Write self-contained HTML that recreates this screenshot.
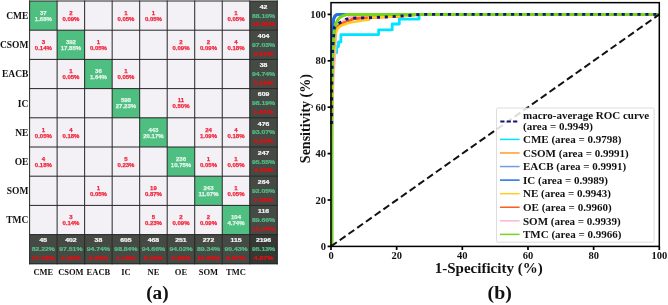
<!DOCTYPE html>
<html><head><meta charset="utf-8"><title>Figure</title>
<style>html,body{margin:0;padding:0;background:#fff;}body{width:668px;height:305px;position:relative;overflow:hidden;font-family:"Liberation Sans",sans-serif;}</style>
</head><body>
<svg width="668" height="305" viewBox="0 0 668 305" style="position:absolute;left:0;top:0;will-change:transform">
<rect width="668" height="305" fill="#fff"/>
<rect x="29.60" y="1.00" width="27.82" height="29.50" fill="#4fbe81"/>
<rect x="57.12" y="1.00" width="27.82" height="29.50" fill="#f3f1f6"/>
<rect x="84.64" y="1.00" width="27.82" height="29.50" fill="#f3f1f6"/>
<rect x="112.16" y="1.00" width="27.82" height="29.50" fill="#f3f1f6"/>
<rect x="139.68" y="1.00" width="27.82" height="29.50" fill="#f3f1f6"/>
<rect x="167.20" y="1.00" width="27.82" height="29.50" fill="#f3f1f6"/>
<rect x="194.72" y="1.00" width="27.82" height="29.50" fill="#f3f1f6"/>
<rect x="222.24" y="1.00" width="27.82" height="29.50" fill="#f3f1f6"/>
<rect x="249.76" y="1.00" width="27.82" height="29.50" fill="#454a44"/>
<rect x="29.60" y="30.20" width="27.82" height="29.50" fill="#f3f1f6"/>
<rect x="57.12" y="30.20" width="27.82" height="29.50" fill="#4fbe81"/>
<rect x="84.64" y="30.20" width="27.82" height="29.50" fill="#f3f1f6"/>
<rect x="112.16" y="30.20" width="27.82" height="29.50" fill="#f3f1f6"/>
<rect x="139.68" y="30.20" width="27.82" height="29.50" fill="#f3f1f6"/>
<rect x="167.20" y="30.20" width="27.82" height="29.50" fill="#f3f1f6"/>
<rect x="194.72" y="30.20" width="27.82" height="29.50" fill="#f3f1f6"/>
<rect x="222.24" y="30.20" width="27.82" height="29.50" fill="#f3f1f6"/>
<rect x="249.76" y="30.20" width="27.82" height="29.50" fill="#454a44"/>
<rect x="29.60" y="59.40" width="27.82" height="29.50" fill="#f3f1f6"/>
<rect x="57.12" y="59.40" width="27.82" height="29.50" fill="#f3f1f6"/>
<rect x="84.64" y="59.40" width="27.82" height="29.50" fill="#4fbe81"/>
<rect x="112.16" y="59.40" width="27.82" height="29.50" fill="#f3f1f6"/>
<rect x="139.68" y="59.40" width="27.82" height="29.50" fill="#f3f1f6"/>
<rect x="167.20" y="59.40" width="27.82" height="29.50" fill="#f3f1f6"/>
<rect x="194.72" y="59.40" width="27.82" height="29.50" fill="#f3f1f6"/>
<rect x="222.24" y="59.40" width="27.82" height="29.50" fill="#f3f1f6"/>
<rect x="249.76" y="59.40" width="27.82" height="29.50" fill="#454a44"/>
<rect x="29.60" y="88.60" width="27.82" height="29.50" fill="#f3f1f6"/>
<rect x="57.12" y="88.60" width="27.82" height="29.50" fill="#f3f1f6"/>
<rect x="84.64" y="88.60" width="27.82" height="29.50" fill="#f3f1f6"/>
<rect x="112.16" y="88.60" width="27.82" height="29.50" fill="#4fbe81"/>
<rect x="139.68" y="88.60" width="27.82" height="29.50" fill="#f3f1f6"/>
<rect x="167.20" y="88.60" width="27.82" height="29.50" fill="#f3f1f6"/>
<rect x="194.72" y="88.60" width="27.82" height="29.50" fill="#f3f1f6"/>
<rect x="222.24" y="88.60" width="27.82" height="29.50" fill="#f3f1f6"/>
<rect x="249.76" y="88.60" width="27.82" height="29.50" fill="#454a44"/>
<rect x="29.60" y="117.80" width="27.82" height="29.50" fill="#f3f1f6"/>
<rect x="57.12" y="117.80" width="27.82" height="29.50" fill="#f3f1f6"/>
<rect x="84.64" y="117.80" width="27.82" height="29.50" fill="#f3f1f6"/>
<rect x="112.16" y="117.80" width="27.82" height="29.50" fill="#f3f1f6"/>
<rect x="139.68" y="117.80" width="27.82" height="29.50" fill="#4fbe81"/>
<rect x="167.20" y="117.80" width="27.82" height="29.50" fill="#f3f1f6"/>
<rect x="194.72" y="117.80" width="27.82" height="29.50" fill="#f3f1f6"/>
<rect x="222.24" y="117.80" width="27.82" height="29.50" fill="#f3f1f6"/>
<rect x="249.76" y="117.80" width="27.82" height="29.50" fill="#454a44"/>
<rect x="29.60" y="147.00" width="27.82" height="29.50" fill="#f3f1f6"/>
<rect x="57.12" y="147.00" width="27.82" height="29.50" fill="#f3f1f6"/>
<rect x="84.64" y="147.00" width="27.82" height="29.50" fill="#f3f1f6"/>
<rect x="112.16" y="147.00" width="27.82" height="29.50" fill="#f3f1f6"/>
<rect x="139.68" y="147.00" width="27.82" height="29.50" fill="#f3f1f6"/>
<rect x="167.20" y="147.00" width="27.82" height="29.50" fill="#4fbe81"/>
<rect x="194.72" y="147.00" width="27.82" height="29.50" fill="#f3f1f6"/>
<rect x="222.24" y="147.00" width="27.82" height="29.50" fill="#f3f1f6"/>
<rect x="249.76" y="147.00" width="27.82" height="29.50" fill="#454a44"/>
<rect x="29.60" y="176.20" width="27.82" height="29.50" fill="#f3f1f6"/>
<rect x="57.12" y="176.20" width="27.82" height="29.50" fill="#f3f1f6"/>
<rect x="84.64" y="176.20" width="27.82" height="29.50" fill="#f3f1f6"/>
<rect x="112.16" y="176.20" width="27.82" height="29.50" fill="#f3f1f6"/>
<rect x="139.68" y="176.20" width="27.82" height="29.50" fill="#f3f1f6"/>
<rect x="167.20" y="176.20" width="27.82" height="29.50" fill="#f3f1f6"/>
<rect x="194.72" y="176.20" width="27.82" height="29.50" fill="#4fbe81"/>
<rect x="222.24" y="176.20" width="27.82" height="29.50" fill="#f3f1f6"/>
<rect x="249.76" y="176.20" width="27.82" height="29.50" fill="#454a44"/>
<rect x="29.60" y="205.40" width="27.82" height="29.50" fill="#f3f1f6"/>
<rect x="57.12" y="205.40" width="27.82" height="29.50" fill="#f3f1f6"/>
<rect x="84.64" y="205.40" width="27.82" height="29.50" fill="#f3f1f6"/>
<rect x="112.16" y="205.40" width="27.82" height="29.50" fill="#f3f1f6"/>
<rect x="139.68" y="205.40" width="27.82" height="29.50" fill="#f3f1f6"/>
<rect x="167.20" y="205.40" width="27.82" height="29.50" fill="#f3f1f6"/>
<rect x="194.72" y="205.40" width="27.82" height="29.50" fill="#f3f1f6"/>
<rect x="222.24" y="205.40" width="27.82" height="29.50" fill="#4fbe81"/>
<rect x="249.76" y="205.40" width="27.82" height="29.50" fill="#454a44"/>
<rect x="29.60" y="234.60" width="27.82" height="29.50" fill="#454a44"/>
<rect x="57.12" y="234.60" width="27.82" height="29.50" fill="#454a44"/>
<rect x="84.64" y="234.60" width="27.82" height="29.50" fill="#454a44"/>
<rect x="112.16" y="234.60" width="27.82" height="29.50" fill="#454a44"/>
<rect x="139.68" y="234.60" width="27.82" height="29.50" fill="#454a44"/>
<rect x="167.20" y="234.60" width="27.82" height="29.50" fill="#454a44"/>
<rect x="194.72" y="234.60" width="27.82" height="29.50" fill="#454a44"/>
<rect x="222.24" y="234.60" width="27.82" height="29.50" fill="#454a44"/>
<rect x="249.76" y="234.60" width="27.82" height="29.50" fill="#343934"/>
<line x1="29.60" x2="29.60" y1="0.50" y2="264.30" stroke="#262626" stroke-width="1"/>
<line y1="1.00" y2="1.00" x1="29.10" x2="277.78" stroke="#262626" stroke-width="1"/>
<line x1="57.12" x2="57.12" y1="0.50" y2="264.30" stroke="#262626" stroke-width="1"/>
<line y1="30.20" y2="30.20" x1="29.10" x2="277.78" stroke="#262626" stroke-width="1"/>
<line x1="84.64" x2="84.64" y1="0.50" y2="264.30" stroke="#262626" stroke-width="1"/>
<line y1="59.40" y2="59.40" x1="29.10" x2="277.78" stroke="#262626" stroke-width="1"/>
<line x1="112.16" x2="112.16" y1="0.50" y2="264.30" stroke="#262626" stroke-width="1"/>
<line y1="88.60" y2="88.60" x1="29.10" x2="277.78" stroke="#262626" stroke-width="1"/>
<line x1="139.68" x2="139.68" y1="0.50" y2="264.30" stroke="#262626" stroke-width="1"/>
<line y1="117.80" y2="117.80" x1="29.10" x2="277.78" stroke="#262626" stroke-width="1"/>
<line x1="167.20" x2="167.20" y1="0.50" y2="264.30" stroke="#262626" stroke-width="1"/>
<line y1="147.00" y2="147.00" x1="29.10" x2="277.78" stroke="#262626" stroke-width="1"/>
<line x1="194.72" x2="194.72" y1="0.50" y2="264.30" stroke="#262626" stroke-width="1"/>
<line y1="176.20" y2="176.20" x1="29.10" x2="277.78" stroke="#262626" stroke-width="1"/>
<line x1="222.24" x2="222.24" y1="0.50" y2="264.30" stroke="#262626" stroke-width="1"/>
<line y1="205.40" y2="205.40" x1="29.10" x2="277.78" stroke="#262626" stroke-width="1"/>
<line x1="249.76" x2="249.76" y1="0.50" y2="264.30" stroke="#262626" stroke-width="1"/>
<line y1="234.60" y2="234.60" x1="29.10" x2="277.78" stroke="#262626" stroke-width="1"/>
<line x1="277.28" x2="277.28" y1="0.50" y2="264.30" stroke="#262626" stroke-width="1"/>
<line y1="263.80" y2="263.80" x1="29.10" x2="277.78" stroke="#262626" stroke-width="1"/>
<text transform="translate(43.36,14.80) scale(1.0,1)" font-family="Liberation Sans, sans-serif" font-size="6.0" font-weight="bold" fill="#e2f5ea" stroke="#e2f5ea" stroke-width="0.25" text-anchor="middle">37</text>
<text transform="translate(43.36,20.70) scale(1.0,1)" font-family="Liberation Sans, sans-serif" font-size="6.0" font-weight="bold" fill="#e2f5ea" stroke="#e2f5ea" stroke-width="0.25" text-anchor="middle">1.68%</text>
<text transform="translate(70.88,44.00) scale(1.0,1)" font-family="Liberation Sans, sans-serif" font-size="6.0" font-weight="bold" fill="#e2f5ea" stroke="#e2f5ea" stroke-width="0.25" text-anchor="middle">392</text>
<text transform="translate(70.88,49.90) scale(1.0,1)" font-family="Liberation Sans, sans-serif" font-size="6.0" font-weight="bold" fill="#e2f5ea" stroke="#e2f5ea" stroke-width="0.25" text-anchor="middle">17.85%</text>
<text transform="translate(98.40,73.20) scale(1.0,1)" font-family="Liberation Sans, sans-serif" font-size="6.0" font-weight="bold" fill="#e2f5ea" stroke="#e2f5ea" stroke-width="0.25" text-anchor="middle">36</text>
<text transform="translate(98.40,79.10) scale(1.0,1)" font-family="Liberation Sans, sans-serif" font-size="6.0" font-weight="bold" fill="#e2f5ea" stroke="#e2f5ea" stroke-width="0.25" text-anchor="middle">1.64%</text>
<text transform="translate(125.92,102.40) scale(1.0,1)" font-family="Liberation Sans, sans-serif" font-size="6.0" font-weight="bold" fill="#e2f5ea" stroke="#e2f5ea" stroke-width="0.25" text-anchor="middle">598</text>
<text transform="translate(125.92,108.30) scale(1.0,1)" font-family="Liberation Sans, sans-serif" font-size="6.0" font-weight="bold" fill="#e2f5ea" stroke="#e2f5ea" stroke-width="0.25" text-anchor="middle">27.23%</text>
<text transform="translate(153.44,131.60) scale(1.0,1)" font-family="Liberation Sans, sans-serif" font-size="6.0" font-weight="bold" fill="#e2f5ea" stroke="#e2f5ea" stroke-width="0.25" text-anchor="middle">443</text>
<text transform="translate(153.44,137.50) scale(1.0,1)" font-family="Liberation Sans, sans-serif" font-size="6.0" font-weight="bold" fill="#e2f5ea" stroke="#e2f5ea" stroke-width="0.25" text-anchor="middle">20.17%</text>
<text transform="translate(180.96,160.80) scale(1.0,1)" font-family="Liberation Sans, sans-serif" font-size="6.0" font-weight="bold" fill="#e2f5ea" stroke="#e2f5ea" stroke-width="0.25" text-anchor="middle">236</text>
<text transform="translate(180.96,166.70) scale(1.0,1)" font-family="Liberation Sans, sans-serif" font-size="6.0" font-weight="bold" fill="#e2f5ea" stroke="#e2f5ea" stroke-width="0.25" text-anchor="middle">10.75%</text>
<text transform="translate(208.48,190.00) scale(1.0,1)" font-family="Liberation Sans, sans-serif" font-size="6.0" font-weight="bold" fill="#e2f5ea" stroke="#e2f5ea" stroke-width="0.25" text-anchor="middle">243</text>
<text transform="translate(208.48,195.90) scale(1.0,1)" font-family="Liberation Sans, sans-serif" font-size="6.0" font-weight="bold" fill="#e2f5ea" stroke="#e2f5ea" stroke-width="0.25" text-anchor="middle">11.07%</text>
<text transform="translate(236.00,219.20) scale(1.0,1)" font-family="Liberation Sans, sans-serif" font-size="6.0" font-weight="bold" fill="#e2f5ea" stroke="#e2f5ea" stroke-width="0.25" text-anchor="middle">104</text>
<text transform="translate(236.00,225.10) scale(1.0,1)" font-family="Liberation Sans, sans-serif" font-size="6.0" font-weight="bold" fill="#e2f5ea" stroke="#e2f5ea" stroke-width="0.25" text-anchor="middle">4.74%</text>
<text transform="translate(70.88,14.80) scale(1.0,1)" font-family="Liberation Sans, sans-serif" font-size="6.0" font-weight="bold" fill="#f3243a" stroke="#f3243a" stroke-width="0.25" text-anchor="middle">2</text>
<text transform="translate(70.88,20.70) scale(1.0,1)" font-family="Liberation Sans, sans-serif" font-size="6.0" font-weight="bold" fill="#f3243a" stroke="#f3243a" stroke-width="0.25" text-anchor="middle">0.09%</text>
<text transform="translate(125.92,14.80) scale(1.0,1)" font-family="Liberation Sans, sans-serif" font-size="6.0" font-weight="bold" fill="#f3243a" stroke="#f3243a" stroke-width="0.25" text-anchor="middle">1</text>
<text transform="translate(125.92,20.70) scale(1.0,1)" font-family="Liberation Sans, sans-serif" font-size="6.0" font-weight="bold" fill="#f3243a" stroke="#f3243a" stroke-width="0.25" text-anchor="middle">0.05%</text>
<text transform="translate(153.44,14.80) scale(1.0,1)" font-family="Liberation Sans, sans-serif" font-size="6.0" font-weight="bold" fill="#f3243a" stroke="#f3243a" stroke-width="0.25" text-anchor="middle">1</text>
<text transform="translate(153.44,20.70) scale(1.0,1)" font-family="Liberation Sans, sans-serif" font-size="6.0" font-weight="bold" fill="#f3243a" stroke="#f3243a" stroke-width="0.25" text-anchor="middle">0.05%</text>
<text transform="translate(236.00,14.80) scale(1.0,1)" font-family="Liberation Sans, sans-serif" font-size="6.0" font-weight="bold" fill="#f3243a" stroke="#f3243a" stroke-width="0.25" text-anchor="middle">1</text>
<text transform="translate(236.00,20.70) scale(1.0,1)" font-family="Liberation Sans, sans-serif" font-size="6.0" font-weight="bold" fill="#f3243a" stroke="#f3243a" stroke-width="0.25" text-anchor="middle">0.05%</text>
<text transform="translate(43.36,44.00) scale(1.0,1)" font-family="Liberation Sans, sans-serif" font-size="6.0" font-weight="bold" fill="#f3243a" stroke="#f3243a" stroke-width="0.25" text-anchor="middle">3</text>
<text transform="translate(43.36,49.90) scale(1.0,1)" font-family="Liberation Sans, sans-serif" font-size="6.0" font-weight="bold" fill="#f3243a" stroke="#f3243a" stroke-width="0.25" text-anchor="middle">0.14%</text>
<text transform="translate(98.40,44.00) scale(1.0,1)" font-family="Liberation Sans, sans-serif" font-size="6.0" font-weight="bold" fill="#f3243a" stroke="#f3243a" stroke-width="0.25" text-anchor="middle">1</text>
<text transform="translate(98.40,49.90) scale(1.0,1)" font-family="Liberation Sans, sans-serif" font-size="6.0" font-weight="bold" fill="#f3243a" stroke="#f3243a" stroke-width="0.25" text-anchor="middle">0.05%</text>
<text transform="translate(180.96,44.00) scale(1.0,1)" font-family="Liberation Sans, sans-serif" font-size="6.0" font-weight="bold" fill="#f3243a" stroke="#f3243a" stroke-width="0.25" text-anchor="middle">2</text>
<text transform="translate(180.96,49.90) scale(1.0,1)" font-family="Liberation Sans, sans-serif" font-size="6.0" font-weight="bold" fill="#f3243a" stroke="#f3243a" stroke-width="0.25" text-anchor="middle">0.09%</text>
<text transform="translate(208.48,44.00) scale(1.0,1)" font-family="Liberation Sans, sans-serif" font-size="6.0" font-weight="bold" fill="#f3243a" stroke="#f3243a" stroke-width="0.25" text-anchor="middle">2</text>
<text transform="translate(208.48,49.90) scale(1.0,1)" font-family="Liberation Sans, sans-serif" font-size="6.0" font-weight="bold" fill="#f3243a" stroke="#f3243a" stroke-width="0.25" text-anchor="middle">0.09%</text>
<text transform="translate(236.00,44.00) scale(1.0,1)" font-family="Liberation Sans, sans-serif" font-size="6.0" font-weight="bold" fill="#f3243a" stroke="#f3243a" stroke-width="0.25" text-anchor="middle">4</text>
<text transform="translate(236.00,49.90) scale(1.0,1)" font-family="Liberation Sans, sans-serif" font-size="6.0" font-weight="bold" fill="#f3243a" stroke="#f3243a" stroke-width="0.25" text-anchor="middle">0.18%</text>
<text transform="translate(70.88,73.20) scale(1.0,1)" font-family="Liberation Sans, sans-serif" font-size="6.0" font-weight="bold" fill="#f3243a" stroke="#f3243a" stroke-width="0.25" text-anchor="middle">1</text>
<text transform="translate(70.88,79.10) scale(1.0,1)" font-family="Liberation Sans, sans-serif" font-size="6.0" font-weight="bold" fill="#f3243a" stroke="#f3243a" stroke-width="0.25" text-anchor="middle">0.05%</text>
<text transform="translate(125.92,73.20) scale(1.0,1)" font-family="Liberation Sans, sans-serif" font-size="6.0" font-weight="bold" fill="#f3243a" stroke="#f3243a" stroke-width="0.25" text-anchor="middle">1</text>
<text transform="translate(125.92,79.10) scale(1.0,1)" font-family="Liberation Sans, sans-serif" font-size="6.0" font-weight="bold" fill="#f3243a" stroke="#f3243a" stroke-width="0.25" text-anchor="middle">0.05%</text>
<text transform="translate(180.96,102.40) scale(1.0,1)" font-family="Liberation Sans, sans-serif" font-size="6.0" font-weight="bold" fill="#f3243a" stroke="#f3243a" stroke-width="0.25" text-anchor="middle">11</text>
<text transform="translate(180.96,108.30) scale(1.0,1)" font-family="Liberation Sans, sans-serif" font-size="6.0" font-weight="bold" fill="#f3243a" stroke="#f3243a" stroke-width="0.25" text-anchor="middle">0.50%</text>
<text transform="translate(43.36,131.60) scale(1.0,1)" font-family="Liberation Sans, sans-serif" font-size="6.0" font-weight="bold" fill="#f3243a" stroke="#f3243a" stroke-width="0.25" text-anchor="middle">1</text>
<text transform="translate(43.36,137.50) scale(1.0,1)" font-family="Liberation Sans, sans-serif" font-size="6.0" font-weight="bold" fill="#f3243a" stroke="#f3243a" stroke-width="0.25" text-anchor="middle">0.05%</text>
<text transform="translate(70.88,131.60) scale(1.0,1)" font-family="Liberation Sans, sans-serif" font-size="6.0" font-weight="bold" fill="#f3243a" stroke="#f3243a" stroke-width="0.25" text-anchor="middle">4</text>
<text transform="translate(70.88,137.50) scale(1.0,1)" font-family="Liberation Sans, sans-serif" font-size="6.0" font-weight="bold" fill="#f3243a" stroke="#f3243a" stroke-width="0.25" text-anchor="middle">0.18%</text>
<text transform="translate(208.48,131.60) scale(1.0,1)" font-family="Liberation Sans, sans-serif" font-size="6.0" font-weight="bold" fill="#f3243a" stroke="#f3243a" stroke-width="0.25" text-anchor="middle">24</text>
<text transform="translate(208.48,137.50) scale(1.0,1)" font-family="Liberation Sans, sans-serif" font-size="6.0" font-weight="bold" fill="#f3243a" stroke="#f3243a" stroke-width="0.25" text-anchor="middle">1.09%</text>
<text transform="translate(236.00,131.60) scale(1.0,1)" font-family="Liberation Sans, sans-serif" font-size="6.0" font-weight="bold" fill="#f3243a" stroke="#f3243a" stroke-width="0.25" text-anchor="middle">4</text>
<text transform="translate(236.00,137.50) scale(1.0,1)" font-family="Liberation Sans, sans-serif" font-size="6.0" font-weight="bold" fill="#f3243a" stroke="#f3243a" stroke-width="0.25" text-anchor="middle">0.18%</text>
<text transform="translate(43.36,160.80) scale(1.0,1)" font-family="Liberation Sans, sans-serif" font-size="6.0" font-weight="bold" fill="#f3243a" stroke="#f3243a" stroke-width="0.25" text-anchor="middle">4</text>
<text transform="translate(43.36,166.70) scale(1.0,1)" font-family="Liberation Sans, sans-serif" font-size="6.0" font-weight="bold" fill="#f3243a" stroke="#f3243a" stroke-width="0.25" text-anchor="middle">0.18%</text>
<text transform="translate(125.92,160.80) scale(1.0,1)" font-family="Liberation Sans, sans-serif" font-size="6.0" font-weight="bold" fill="#f3243a" stroke="#f3243a" stroke-width="0.25" text-anchor="middle">5</text>
<text transform="translate(125.92,166.70) scale(1.0,1)" font-family="Liberation Sans, sans-serif" font-size="6.0" font-weight="bold" fill="#f3243a" stroke="#f3243a" stroke-width="0.25" text-anchor="middle">0.23%</text>
<text transform="translate(208.48,160.80) scale(1.0,1)" font-family="Liberation Sans, sans-serif" font-size="6.0" font-weight="bold" fill="#f3243a" stroke="#f3243a" stroke-width="0.25" text-anchor="middle">1</text>
<text transform="translate(208.48,166.70) scale(1.0,1)" font-family="Liberation Sans, sans-serif" font-size="6.0" font-weight="bold" fill="#f3243a" stroke="#f3243a" stroke-width="0.25" text-anchor="middle">0.05%</text>
<text transform="translate(236.00,160.80) scale(1.0,1)" font-family="Liberation Sans, sans-serif" font-size="6.0" font-weight="bold" fill="#f3243a" stroke="#f3243a" stroke-width="0.25" text-anchor="middle">1</text>
<text transform="translate(236.00,166.70) scale(1.0,1)" font-family="Liberation Sans, sans-serif" font-size="6.0" font-weight="bold" fill="#f3243a" stroke="#f3243a" stroke-width="0.25" text-anchor="middle">0.05%</text>
<text transform="translate(98.40,190.00) scale(1.0,1)" font-family="Liberation Sans, sans-serif" font-size="6.0" font-weight="bold" fill="#f3243a" stroke="#f3243a" stroke-width="0.25" text-anchor="middle">1</text>
<text transform="translate(98.40,195.90) scale(1.0,1)" font-family="Liberation Sans, sans-serif" font-size="6.0" font-weight="bold" fill="#f3243a" stroke="#f3243a" stroke-width="0.25" text-anchor="middle">0.05%</text>
<text transform="translate(153.44,190.00) scale(1.0,1)" font-family="Liberation Sans, sans-serif" font-size="6.0" font-weight="bold" fill="#f3243a" stroke="#f3243a" stroke-width="0.25" text-anchor="middle">19</text>
<text transform="translate(153.44,195.90) scale(1.0,1)" font-family="Liberation Sans, sans-serif" font-size="6.0" font-weight="bold" fill="#f3243a" stroke="#f3243a" stroke-width="0.25" text-anchor="middle">0.87%</text>
<text transform="translate(236.00,190.00) scale(1.0,1)" font-family="Liberation Sans, sans-serif" font-size="6.0" font-weight="bold" fill="#f3243a" stroke="#f3243a" stroke-width="0.25" text-anchor="middle">1</text>
<text transform="translate(236.00,195.90) scale(1.0,1)" font-family="Liberation Sans, sans-serif" font-size="6.0" font-weight="bold" fill="#f3243a" stroke="#f3243a" stroke-width="0.25" text-anchor="middle">0.05%</text>
<text transform="translate(70.88,219.20) scale(1.0,1)" font-family="Liberation Sans, sans-serif" font-size="6.0" font-weight="bold" fill="#f3243a" stroke="#f3243a" stroke-width="0.25" text-anchor="middle">3</text>
<text transform="translate(70.88,225.10) scale(1.0,1)" font-family="Liberation Sans, sans-serif" font-size="6.0" font-weight="bold" fill="#f3243a" stroke="#f3243a" stroke-width="0.25" text-anchor="middle">0.14%</text>
<text transform="translate(153.44,219.20) scale(1.0,1)" font-family="Liberation Sans, sans-serif" font-size="6.0" font-weight="bold" fill="#f3243a" stroke="#f3243a" stroke-width="0.25" text-anchor="middle">5</text>
<text transform="translate(153.44,225.10) scale(1.0,1)" font-family="Liberation Sans, sans-serif" font-size="6.0" font-weight="bold" fill="#f3243a" stroke="#f3243a" stroke-width="0.25" text-anchor="middle">0.23%</text>
<text transform="translate(180.96,219.20) scale(1.0,1)" font-family="Liberation Sans, sans-serif" font-size="6.0" font-weight="bold" fill="#f3243a" stroke="#f3243a" stroke-width="0.25" text-anchor="middle">2</text>
<text transform="translate(180.96,225.10) scale(1.0,1)" font-family="Liberation Sans, sans-serif" font-size="6.0" font-weight="bold" fill="#f3243a" stroke="#f3243a" stroke-width="0.25" text-anchor="middle">0.09%</text>
<text transform="translate(208.48,219.20) scale(1.0,1)" font-family="Liberation Sans, sans-serif" font-size="6.0" font-weight="bold" fill="#f3243a" stroke="#f3243a" stroke-width="0.25" text-anchor="middle">2</text>
<text transform="translate(208.48,225.10) scale(1.0,1)" font-family="Liberation Sans, sans-serif" font-size="6.0" font-weight="bold" fill="#f3243a" stroke="#f3243a" stroke-width="0.25" text-anchor="middle">0.09%</text>
<text transform="translate(263.52,8.80) scale(1.2,1)" font-family="Liberation Sans, sans-serif" font-size="5.7" font-weight="bold" fill="#f4f4f4" stroke="#f4f4f4" stroke-width="0.25" text-anchor="middle">42</text>
<text transform="translate(263.52,17.50) scale(1.2,1)" font-family="Liberation Sans, sans-serif" font-size="5.7" font-weight="bold" fill="#54bb84" stroke="#54bb84" stroke-width="0.25" text-anchor="middle">88.10%</text>
<text transform="translate(263.52,26.30) scale(1.2,1)" font-family="Liberation Sans, sans-serif" font-size="5.7" font-weight="bold" fill="#e80c10" stroke="#e80c10" stroke-width="0.25" text-anchor="middle">11.90%</text>
<text transform="translate(263.52,38.00) scale(1.2,1)" font-family="Liberation Sans, sans-serif" font-size="5.7" font-weight="bold" fill="#f4f4f4" stroke="#f4f4f4" stroke-width="0.25" text-anchor="middle">404</text>
<text transform="translate(263.52,46.70) scale(1.2,1)" font-family="Liberation Sans, sans-serif" font-size="5.7" font-weight="bold" fill="#54bb84" stroke="#54bb84" stroke-width="0.25" text-anchor="middle">97.03%</text>
<text transform="translate(263.52,55.50) scale(1.2,1)" font-family="Liberation Sans, sans-serif" font-size="5.7" font-weight="bold" fill="#e80c10" stroke="#e80c10" stroke-width="0.25" text-anchor="middle">2.97%</text>
<text transform="translate(263.52,67.20) scale(1.2,1)" font-family="Liberation Sans, sans-serif" font-size="5.7" font-weight="bold" fill="#f4f4f4" stroke="#f4f4f4" stroke-width="0.25" text-anchor="middle">38</text>
<text transform="translate(263.52,75.90) scale(1.2,1)" font-family="Liberation Sans, sans-serif" font-size="5.7" font-weight="bold" fill="#54bb84" stroke="#54bb84" stroke-width="0.25" text-anchor="middle">94.74%</text>
<text transform="translate(263.52,84.70) scale(1.2,1)" font-family="Liberation Sans, sans-serif" font-size="5.7" font-weight="bold" fill="#e80c10" stroke="#e80c10" stroke-width="0.25" text-anchor="middle">5.26%</text>
<text transform="translate(263.52,96.40) scale(1.2,1)" font-family="Liberation Sans, sans-serif" font-size="5.7" font-weight="bold" fill="#f4f4f4" stroke="#f4f4f4" stroke-width="0.25" text-anchor="middle">609</text>
<text transform="translate(263.52,105.10) scale(1.2,1)" font-family="Liberation Sans, sans-serif" font-size="5.7" font-weight="bold" fill="#54bb84" stroke="#54bb84" stroke-width="0.25" text-anchor="middle">98.19%</text>
<text transform="translate(263.52,113.90) scale(1.2,1)" font-family="Liberation Sans, sans-serif" font-size="5.7" font-weight="bold" fill="#e80c10" stroke="#e80c10" stroke-width="0.25" text-anchor="middle">1.81%</text>
<text transform="translate(263.52,125.60) scale(1.2,1)" font-family="Liberation Sans, sans-serif" font-size="5.7" font-weight="bold" fill="#f4f4f4" stroke="#f4f4f4" stroke-width="0.25" text-anchor="middle">476</text>
<text transform="translate(263.52,134.30) scale(1.2,1)" font-family="Liberation Sans, sans-serif" font-size="5.7" font-weight="bold" fill="#54bb84" stroke="#54bb84" stroke-width="0.25" text-anchor="middle">93.07%</text>
<text transform="translate(263.52,143.10) scale(1.2,1)" font-family="Liberation Sans, sans-serif" font-size="5.7" font-weight="bold" fill="#e80c10" stroke="#e80c10" stroke-width="0.25" text-anchor="middle">6.93%</text>
<text transform="translate(263.52,154.80) scale(1.2,1)" font-family="Liberation Sans, sans-serif" font-size="5.7" font-weight="bold" fill="#f4f4f4" stroke="#f4f4f4" stroke-width="0.25" text-anchor="middle">247</text>
<text transform="translate(263.52,163.50) scale(1.2,1)" font-family="Liberation Sans, sans-serif" font-size="5.7" font-weight="bold" fill="#54bb84" stroke="#54bb84" stroke-width="0.25" text-anchor="middle">95.55%</text>
<text transform="translate(263.52,172.30) scale(1.2,1)" font-family="Liberation Sans, sans-serif" font-size="5.7" font-weight="bold" fill="#e80c10" stroke="#e80c10" stroke-width="0.25" text-anchor="middle">4.45%</text>
<text transform="translate(263.52,184.00) scale(1.2,1)" font-family="Liberation Sans, sans-serif" font-size="5.7" font-weight="bold" fill="#f4f4f4" stroke="#f4f4f4" stroke-width="0.25" text-anchor="middle">264</text>
<text transform="translate(263.52,192.70) scale(1.2,1)" font-family="Liberation Sans, sans-serif" font-size="5.7" font-weight="bold" fill="#54bb84" stroke="#54bb84" stroke-width="0.25" text-anchor="middle">92.05%</text>
<text transform="translate(263.52,201.50) scale(1.2,1)" font-family="Liberation Sans, sans-serif" font-size="5.7" font-weight="bold" fill="#e80c10" stroke="#e80c10" stroke-width="0.25" text-anchor="middle">7.95%</text>
<text transform="translate(263.52,213.20) scale(1.2,1)" font-family="Liberation Sans, sans-serif" font-size="5.7" font-weight="bold" fill="#f4f4f4" stroke="#f4f4f4" stroke-width="0.25" text-anchor="middle">116</text>
<text transform="translate(263.52,221.90) scale(1.2,1)" font-family="Liberation Sans, sans-serif" font-size="5.7" font-weight="bold" fill="#54bb84" stroke="#54bb84" stroke-width="0.25" text-anchor="middle">89.66%</text>
<text transform="translate(263.52,230.70) scale(1.2,1)" font-family="Liberation Sans, sans-serif" font-size="5.7" font-weight="bold" fill="#e80c10" stroke="#e80c10" stroke-width="0.25" text-anchor="middle">10.34%</text>
<text transform="translate(43.36,242.40) scale(1.2,1)" font-family="Liberation Sans, sans-serif" font-size="5.7" font-weight="bold" fill="#f4f4f4" stroke="#f4f4f4" stroke-width="0.25" text-anchor="middle">45</text>
<text transform="translate(43.36,251.10) scale(1.2,1)" font-family="Liberation Sans, sans-serif" font-size="5.7" font-weight="bold" fill="#54bb84" stroke="#54bb84" stroke-width="0.25" text-anchor="middle">82.22%</text>
<text transform="translate(43.36,259.90) scale(1.2,1)" font-family="Liberation Sans, sans-serif" font-size="5.7" font-weight="bold" fill="#e80c10" stroke="#e80c10" stroke-width="0.25" text-anchor="middle">17.78%</text>
<text transform="translate(70.88,242.40) scale(1.2,1)" font-family="Liberation Sans, sans-serif" font-size="5.7" font-weight="bold" fill="#f4f4f4" stroke="#f4f4f4" stroke-width="0.25" text-anchor="middle">402</text>
<text transform="translate(70.88,251.10) scale(1.2,1)" font-family="Liberation Sans, sans-serif" font-size="5.7" font-weight="bold" fill="#54bb84" stroke="#54bb84" stroke-width="0.25" text-anchor="middle">97.51%</text>
<text transform="translate(70.88,259.90) scale(1.2,1)" font-family="Liberation Sans, sans-serif" font-size="5.7" font-weight="bold" fill="#e80c10" stroke="#e80c10" stroke-width="0.25" text-anchor="middle">2.49%</text>
<text transform="translate(98.40,242.40) scale(1.2,1)" font-family="Liberation Sans, sans-serif" font-size="5.7" font-weight="bold" fill="#f4f4f4" stroke="#f4f4f4" stroke-width="0.25" text-anchor="middle">38</text>
<text transform="translate(98.40,251.10) scale(1.2,1)" font-family="Liberation Sans, sans-serif" font-size="5.7" font-weight="bold" fill="#54bb84" stroke="#54bb84" stroke-width="0.25" text-anchor="middle">94.74%</text>
<text transform="translate(98.40,259.90) scale(1.2,1)" font-family="Liberation Sans, sans-serif" font-size="5.7" font-weight="bold" fill="#e80c10" stroke="#e80c10" stroke-width="0.25" text-anchor="middle">5.26%</text>
<text transform="translate(125.92,242.40) scale(1.2,1)" font-family="Liberation Sans, sans-serif" font-size="5.7" font-weight="bold" fill="#f4f4f4" stroke="#f4f4f4" stroke-width="0.25" text-anchor="middle">605</text>
<text transform="translate(125.92,251.10) scale(1.2,1)" font-family="Liberation Sans, sans-serif" font-size="5.7" font-weight="bold" fill="#54bb84" stroke="#54bb84" stroke-width="0.25" text-anchor="middle">98.84%</text>
<text transform="translate(125.92,259.90) scale(1.2,1)" font-family="Liberation Sans, sans-serif" font-size="5.7" font-weight="bold" fill="#e80c10" stroke="#e80c10" stroke-width="0.25" text-anchor="middle">1.16%</text>
<text transform="translate(153.44,242.40) scale(1.2,1)" font-family="Liberation Sans, sans-serif" font-size="5.7" font-weight="bold" fill="#f4f4f4" stroke="#f4f4f4" stroke-width="0.25" text-anchor="middle">468</text>
<text transform="translate(153.44,251.10) scale(1.2,1)" font-family="Liberation Sans, sans-serif" font-size="5.7" font-weight="bold" fill="#54bb84" stroke="#54bb84" stroke-width="0.25" text-anchor="middle">94.66%</text>
<text transform="translate(153.44,259.90) scale(1.2,1)" font-family="Liberation Sans, sans-serif" font-size="5.7" font-weight="bold" fill="#e80c10" stroke="#e80c10" stroke-width="0.25" text-anchor="middle">5.34%</text>
<text transform="translate(180.96,242.40) scale(1.2,1)" font-family="Liberation Sans, sans-serif" font-size="5.7" font-weight="bold" fill="#f4f4f4" stroke="#f4f4f4" stroke-width="0.25" text-anchor="middle">251</text>
<text transform="translate(180.96,251.10) scale(1.2,1)" font-family="Liberation Sans, sans-serif" font-size="5.7" font-weight="bold" fill="#54bb84" stroke="#54bb84" stroke-width="0.25" text-anchor="middle">94.02%</text>
<text transform="translate(180.96,259.90) scale(1.2,1)" font-family="Liberation Sans, sans-serif" font-size="5.7" font-weight="bold" fill="#e80c10" stroke="#e80c10" stroke-width="0.25" text-anchor="middle">5.98%</text>
<text transform="translate(208.48,242.40) scale(1.2,1)" font-family="Liberation Sans, sans-serif" font-size="5.7" font-weight="bold" fill="#f4f4f4" stroke="#f4f4f4" stroke-width="0.25" text-anchor="middle">272</text>
<text transform="translate(208.48,251.10) scale(1.2,1)" font-family="Liberation Sans, sans-serif" font-size="5.7" font-weight="bold" fill="#54bb84" stroke="#54bb84" stroke-width="0.25" text-anchor="middle">89.34%</text>
<text transform="translate(208.48,259.90) scale(1.2,1)" font-family="Liberation Sans, sans-serif" font-size="5.7" font-weight="bold" fill="#e80c10" stroke="#e80c10" stroke-width="0.25" text-anchor="middle">10.66%</text>
<text transform="translate(236.00,242.40) scale(1.2,1)" font-family="Liberation Sans, sans-serif" font-size="5.7" font-weight="bold" fill="#f4f4f4" stroke="#f4f4f4" stroke-width="0.25" text-anchor="middle">115</text>
<text transform="translate(236.00,251.10) scale(1.2,1)" font-family="Liberation Sans, sans-serif" font-size="5.7" font-weight="bold" fill="#54bb84" stroke="#54bb84" stroke-width="0.25" text-anchor="middle">90.43%</text>
<text transform="translate(236.00,259.90) scale(1.2,1)" font-family="Liberation Sans, sans-serif" font-size="5.7" font-weight="bold" fill="#e80c10" stroke="#e80c10" stroke-width="0.25" text-anchor="middle">9.57%</text>
<text transform="translate(263.52,242.40) scale(1.2,1)" font-family="Liberation Sans, sans-serif" font-size="5.7" font-weight="bold" fill="#f4f4f4" stroke="#f4f4f4" stroke-width="0.25" text-anchor="middle">2196</text>
<text transform="translate(263.52,251.10) scale(1.2,1)" font-family="Liberation Sans, sans-serif" font-size="5.7" font-weight="bold" fill="#54bb84" stroke="#54bb84" stroke-width="0.25" text-anchor="middle">95.13%</text>
<text transform="translate(263.52,259.90) scale(1.2,1)" font-family="Liberation Sans, sans-serif" font-size="5.7" font-weight="bold" fill="#e80c10" stroke="#e80c10" stroke-width="0.25" text-anchor="middle">4.87%</text>
<text x="28.4" y="18.90" font-family="Liberation Serif, serif" font-weight="bold" font-size="9.5" fill="#111" text-anchor="end">CME</text>
<text x="43.36" y="275" font-family="Liberation Serif, serif" font-weight="bold" font-size="8.5" fill="#111" text-anchor="middle">CME</text>
<text x="28.4" y="48.10" font-family="Liberation Serif, serif" font-weight="bold" font-size="9.5" fill="#111" text-anchor="end">CSOM</text>
<text x="70.88" y="275" font-family="Liberation Serif, serif" font-weight="bold" font-size="8.5" fill="#111" text-anchor="middle">CSOM</text>
<text x="28.4" y="77.30" font-family="Liberation Serif, serif" font-weight="bold" font-size="9.5" fill="#111" text-anchor="end">EACB</text>
<text x="98.40" y="275" font-family="Liberation Serif, serif" font-weight="bold" font-size="8.5" fill="#111" text-anchor="middle">EACB</text>
<text x="28.4" y="106.50" font-family="Liberation Serif, serif" font-weight="bold" font-size="9.5" fill="#111" text-anchor="end">IC</text>
<text x="125.92" y="275" font-family="Liberation Serif, serif" font-weight="bold" font-size="8.5" fill="#111" text-anchor="middle">IC</text>
<text x="28.4" y="135.70" font-family="Liberation Serif, serif" font-weight="bold" font-size="9.5" fill="#111" text-anchor="end">NE</text>
<text x="153.44" y="275" font-family="Liberation Serif, serif" font-weight="bold" font-size="8.5" fill="#111" text-anchor="middle">NE</text>
<text x="28.4" y="164.90" font-family="Liberation Serif, serif" font-weight="bold" font-size="9.5" fill="#111" text-anchor="end">OE</text>
<text x="180.96" y="275" font-family="Liberation Serif, serif" font-weight="bold" font-size="8.5" fill="#111" text-anchor="middle">OE</text>
<text x="28.4" y="194.10" font-family="Liberation Serif, serif" font-weight="bold" font-size="9.5" fill="#111" text-anchor="end">SOM</text>
<text x="208.48" y="275" font-family="Liberation Serif, serif" font-weight="bold" font-size="8.5" fill="#111" text-anchor="middle">SOM</text>
<text x="28.4" y="223.30" font-family="Liberation Serif, serif" font-weight="bold" font-size="9.5" fill="#111" text-anchor="end">TMC</text>
<text x="236.00" y="275" font-family="Liberation Serif, serif" font-weight="bold" font-size="8.5" fill="#111" text-anchor="middle">TMC</text>
<text x="157.4" y="299.4" font-family="Liberation Serif, serif" font-weight="bold" font-size="19.3" fill="#111" text-anchor="middle">(a)</text>
<text x="499.7" y="299.4" font-family="Liberation Serif, serif" font-weight="bold" font-size="19.8" fill="#111" text-anchor="middle">(b)</text>
<path d="M331.70,246.40 L331.70,90.00 L332.60,75.00 L334.00,56.00 L334.60,52.60 L336.70,52.60 L336.70,46.50 L338.50,46.50 L338.50,42.00 L340.90,42.00 L340.90,34.60 L378.60,34.60 L378.60,29.80 L392.20,29.80 L392.20,24.00 L399.30,24.00 L399.30,19.10 L419.10,19.10 L419.10,14.40 L659.30,14.40" fill="none" stroke="#00e5ff" stroke-width="2.8" stroke-linejoin="round"/>
<path d="M331.70,246.40 L331.70,70.00 L332.40,40.00 L333.20,22.00 L333.70,18.00 L334.70,15.50 L336.30,14.40 L339.00,14.40 L659.30,14.40" fill="none" stroke="#ff9a2e" stroke-width="2.6" stroke-linejoin="round"/>
<path d="M331.70,246.40 L331.70,70.00 L332.40,40.00 L333.20,23.00 L333.70,18.50 L334.80,15.80 L336.50,14.60 L339.00,14.40 L659.30,14.40" fill="none" stroke="#6d9eeb" stroke-width="2.6" stroke-linejoin="round"/>
<path d="M331.70,246.40 L331.70,70.00 L332.40,40.00 L333.10,26.00 L333.40,21.00 L333.90,18.60 L334.70,16.80 L336.10,15.30 L338.00,14.40 L659.30,14.40" fill="none" stroke="#1f6feb" stroke-width="2.9" stroke-linejoin="round"/>
<path d="M331.70,246.40 L331.70,150.00 L332.50,105.00 L333.40,75.00 L335.20,50.00 L336.00,32.00 L337.20,27.50 L339.00,24.80 L343.00,21.60 L347.00,18.50 L349.00,17.50 L352.00,17.20 L380.00,16.60 L400.00,15.80 L412.00,15.00 L419.00,14.40 L659.30,14.40" fill="none" stroke="#ffb6c8" stroke-width="2.6" stroke-linejoin="round"/>
<path d="M331.70,246.40 L331.70,90.00 L333.00,55.00 L334.60,38.00 L336.00,30.00 L338.00,26.00 L342.70,23.20 L347.70,21.60 L350.60,20.20 L353.00,18.80 L362.00,18.10 L369.00,17.80 L380.00,17.20 L400.00,16.00 L412.00,15.20 L419.00,14.40 L659.30,14.40" fill="none" stroke="#ff5a1f" stroke-width="2.8" stroke-linejoin="round"/>
<path d="M331.70,246.40 L331.70,150.00 L332.30,100.00 L333.20,60.00 L334.60,40.00 L336.00,32.00 L337.80,28.20 L340.80,25.80 L347.70,23.30 L353.60,21.90 L362.40,20.50 L369.00,19.80 L369.00,17.80 L385.00,17.10 L400.00,16.20 L412.00,15.40 L419.00,14.40 L659.30,14.40" fill="none" stroke="#ffcc22" stroke-width="2.5" stroke-linejoin="round"/>
<path d="M331.70,246.40 L331.70,85.00 L332.50,60.00 L333.30,45.00 L333.90,36.50 L334.40,30.60 L335.10,25.70 L336.40,22.70 L337.80,19.80 L339.50,17.80 L342.70,15.90 L346.70,14.50 L659.30,14.40" fill="none" stroke="#77d51a" stroke-width="3.0" stroke-linejoin="round"/>
<path d="M331.70,128.00 L331.70,90.00 L332.40,55.00 L333.20,40.00 L333.60,36.50 L334.40,27.20 L336.50,24.60 L339.80,22.70 L345.70,19.40 L350.00,18.50 L354.00,18.10 L362.40,17.90 L372.00,17.60 L385.00,17.00 L393.00,16.60 L400.00,16.10 L412.00,15.20 L420.00,14.40 L659.30,14.40" fill="none" stroke="#141478" stroke-width="2.9" stroke-dasharray="3.1,4.8" stroke-dashoffset="4"/>
<path d="M331.00,246.40 L659.30,14.40" fill="none" stroke="#111" stroke-width="2.0" stroke-dasharray="7.1,3.6"/>
<rect x="331.00" y="2.65" width="328.30" height="243.75" fill="none" stroke="#000" stroke-width="1.5"/>
<line x1="327.60" x2="331.00" y1="246.40" y2="246.40" stroke="#000" stroke-width="1.7"/>
<text x="326.10" y="249.90" font-family="Liberation Serif, serif" font-weight="bold" font-size="10.5" text-anchor="end" fill="#111">0</text>
<line y1="250.00" y2="246.40" x1="331.00" x2="331.00" stroke="#000" stroke-width="1.7"/>
<text x="331.00" y="258.80" font-family="Liberation Serif, serif" font-weight="bold" font-size="10.5" text-anchor="middle" fill="#111">0</text>
<line x1="327.60" x2="331.00" y1="200.00" y2="200.00" stroke="#000" stroke-width="1.7"/>
<text x="326.10" y="203.50" font-family="Liberation Serif, serif" font-weight="bold" font-size="10.5" text-anchor="end" fill="#111">20</text>
<line y1="250.00" y2="246.40" x1="396.66" x2="396.66" stroke="#000" stroke-width="1.7"/>
<text x="396.66" y="258.80" font-family="Liberation Serif, serif" font-weight="bold" font-size="10.5" text-anchor="middle" fill="#111">20</text>
<line x1="327.60" x2="331.00" y1="153.60" y2="153.60" stroke="#000" stroke-width="1.7"/>
<text x="326.10" y="157.10" font-family="Liberation Serif, serif" font-weight="bold" font-size="10.5" text-anchor="end" fill="#111">40</text>
<line y1="250.00" y2="246.40" x1="462.32" x2="462.32" stroke="#000" stroke-width="1.7"/>
<text x="462.32" y="258.80" font-family="Liberation Serif, serif" font-weight="bold" font-size="10.5" text-anchor="middle" fill="#111">40</text>
<line x1="327.60" x2="331.00" y1="107.20" y2="107.20" stroke="#000" stroke-width="1.7"/>
<text x="326.10" y="110.70" font-family="Liberation Serif, serif" font-weight="bold" font-size="10.5" text-anchor="end" fill="#111">60</text>
<line y1="250.00" y2="246.40" x1="527.98" x2="527.98" stroke="#000" stroke-width="1.7"/>
<text x="527.98" y="258.80" font-family="Liberation Serif, serif" font-weight="bold" font-size="10.5" text-anchor="middle" fill="#111">60</text>
<line x1="327.60" x2="331.00" y1="60.80" y2="60.80" stroke="#000" stroke-width="1.7"/>
<text x="326.10" y="64.30" font-family="Liberation Serif, serif" font-weight="bold" font-size="10.5" text-anchor="end" fill="#111">80</text>
<line y1="250.00" y2="246.40" x1="593.64" x2="593.64" stroke="#000" stroke-width="1.7"/>
<text x="593.64" y="258.80" font-family="Liberation Serif, serif" font-weight="bold" font-size="10.5" text-anchor="middle" fill="#111">80</text>
<line x1="327.60" x2="331.00" y1="14.40" y2="14.40" stroke="#000" stroke-width="1.7"/>
<text x="326.10" y="17.90" font-family="Liberation Serif, serif" font-weight="bold" font-size="10.5" text-anchor="end" fill="#111">100</text>
<line y1="250.00" y2="246.40" x1="659.30" x2="659.30" stroke="#000" stroke-width="1.7"/>
<text x="659.30" y="258.80" font-family="Liberation Serif, serif" font-weight="bold" font-size="10.5" text-anchor="middle" fill="#111">100</text>
<text x="488.7" y="273" font-family="Liberation Serif, serif" font-weight="bold" font-size="15" text-anchor="middle" fill="#111">1-Specificity (%)</text>
<text transform="translate(310,118.6) rotate(-90)" font-family="Liberation Serif, serif" font-weight="bold" font-size="14" text-anchor="middle" fill="#111">Sensitivity (%)</text>
<rect x="496.5" y="108" width="157.6" height="134.2" rx="1.5" fill="#fff" fill-opacity="0.85" stroke="#d4d4d4" stroke-width="0.8"/>
<line x1="500.3" x2="517.4" y1="121.6" y2="121.6" stroke="#141478" stroke-width="2" stroke-dasharray="4.2,2.2"/>
<text x="523" y="119.2" font-family="Liberation Serif, serif" font-weight="bold" font-size="11" fill="#111">macro-average ROC curve</text>
<text x="523" y="129.9" font-family="Liberation Serif, serif" font-weight="bold" font-size="11" fill="#111">(area = 0.9949)</text>
<line x1="500" x2="519.6" y1="139.40" y2="139.40" stroke="#00e5ff" stroke-width="1.5"/>
<text x="523" y="143.20" font-family="Liberation Serif, serif" font-weight="bold" font-size="11" fill="#111">CME (area = 0.9798)</text>
<line x1="500" x2="519.6" y1="152.97" y2="152.97" stroke="#ff9a2e" stroke-width="1.5"/>
<text x="523" y="156.77" font-family="Liberation Serif, serif" font-weight="bold" font-size="11" fill="#111">CSOM (area = 0.9991)</text>
<line x1="500" x2="519.6" y1="166.54" y2="166.54" stroke="#6d9eeb" stroke-width="1.5"/>
<text x="523" y="170.34" font-family="Liberation Serif, serif" font-weight="bold" font-size="11" fill="#111">EACB (area = 0.9991)</text>
<line x1="500" x2="519.6" y1="180.11" y2="180.11" stroke="#1f6feb" stroke-width="1.5"/>
<text x="523" y="183.91" font-family="Liberation Serif, serif" font-weight="bold" font-size="11" fill="#111">IC (area = 0.9989)</text>
<line x1="500" x2="519.6" y1="193.68" y2="193.68" stroke="#ffcc22" stroke-width="1.5"/>
<text x="523" y="197.48" font-family="Liberation Serif, serif" font-weight="bold" font-size="11" fill="#111">NE (area = 0.9943)</text>
<line x1="500" x2="519.6" y1="207.25" y2="207.25" stroke="#ff5a1f" stroke-width="1.5"/>
<text x="523" y="211.05" font-family="Liberation Serif, serif" font-weight="bold" font-size="11" fill="#111">OE (area = 0.9960)</text>
<line x1="500" x2="519.6" y1="220.82" y2="220.82" stroke="#ffb6c8" stroke-width="1.5"/>
<text x="523" y="224.62" font-family="Liberation Serif, serif" font-weight="bold" font-size="11" fill="#111">SOM (area = 0.9939)</text>
<line x1="500" x2="519.6" y1="234.39" y2="234.39" stroke="#77d51a" stroke-width="1.5"/>
<text x="523" y="238.19" font-family="Liberation Serif, serif" font-weight="bold" font-size="11" fill="#111">TMC (area = 0.9966)</text>
</svg>
</body></html>
